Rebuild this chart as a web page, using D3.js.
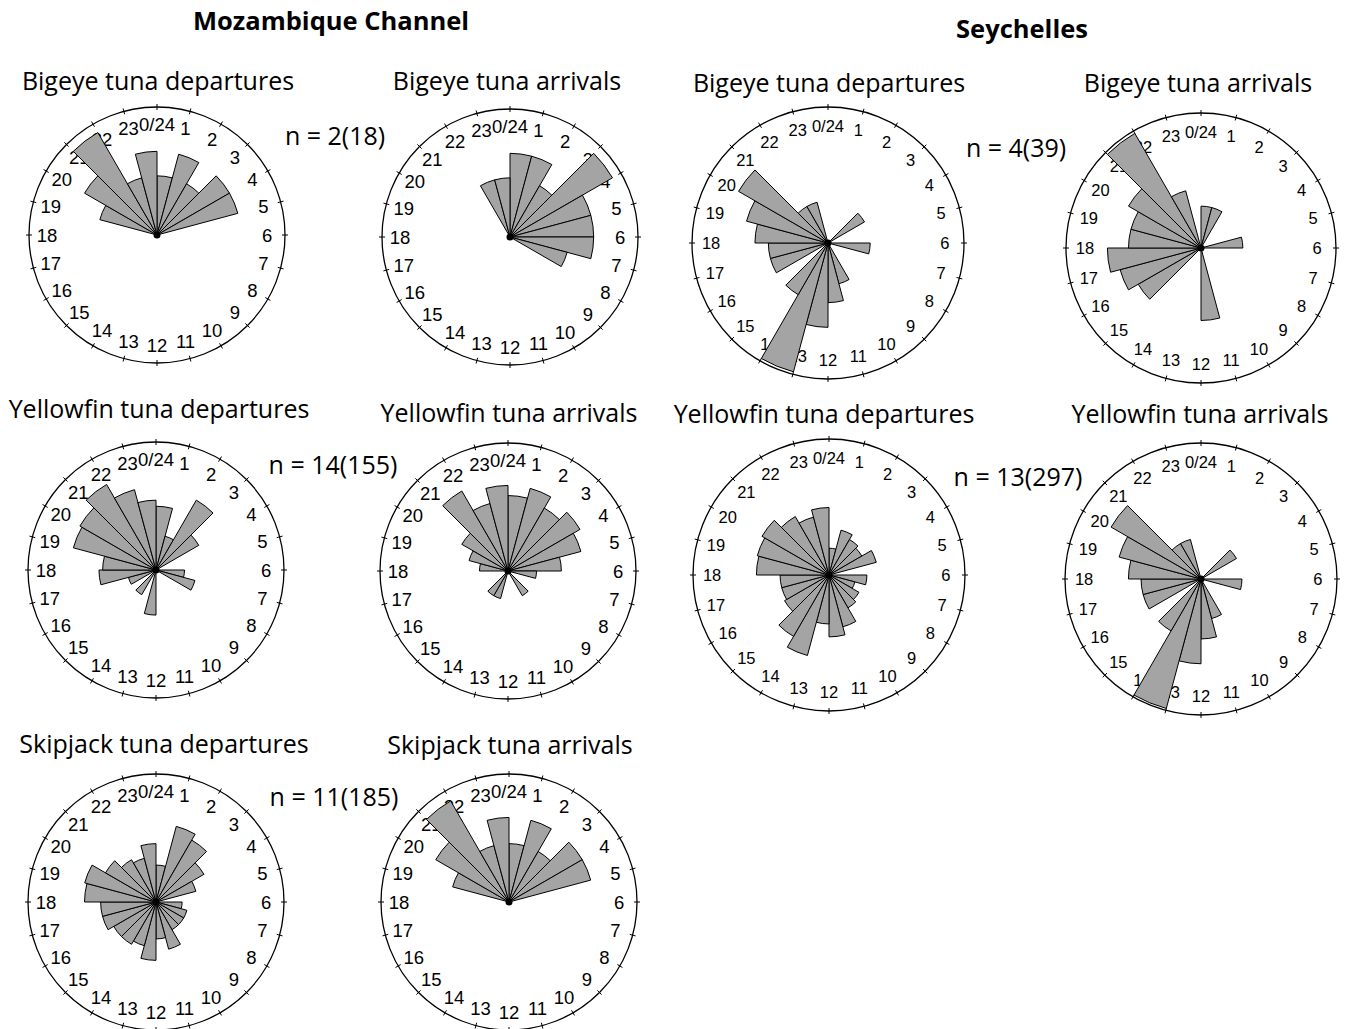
<!DOCTYPE html>
<html>
<head>
<meta charset="utf-8">
<script src="https://cdn.jsdelivr.net/npm/d3@7"></script>
<style>
  body { margin: 0; background: #fff; }
  svg { display: block; }
</style>
</head>
<body>
<svg id="chart" width="1346" height="1029"></svg>
<script>
// Hour-of-day labels around each rose (bin h covers h:00 to h+1:00)
const hourLabels = ["0/24", "1", "2", "3", "4", "5", "6", "7", "8", "9", "10", "11",
                    "12", "13", "14", "15", "16", "17", "18", "19", "20", "21", "22", "23"];

// Number of events per hourly bin, 0h ... 23h
const mozBigeyeDepartures    = [1, 2, 1, 2, 2, 0, 0, 0, 0, 0, 0, 0, 0, 0, 0, 0, 0, 0, 0, 1, 2, 4, 1, 2];
const mozBigeyeArrivals      = [2, 2, 1, 4, 2, 2, 2, 1, 0, 0, 0, 0, 0, 0, 0, 0, 0, 0, 0, 0, 0, 0, 1, 1];
const seyBigeyeDepartures    = [0, 0, 0, 1, 0, 0, 1, 0, 0, 0, 1, 2, 4, 10, 2, 0, 2, 2, 3, 4, 6, 1, 1, 0];
const seyBigeyeArrivals      = [1, 1, 0, 0, 0, 1, 0, 0, 0, 0, 0, 3, 0, 0, 0, 3, 4, 5, 3, 3, 4, 10, 2, 0];
const mozYellowfinDepartures = [10, 3, 16, 6, 0, 0, 2, 4, 0, 0, 0, 0, 5, 0, 2, 0, 2, 8, 7, 18, 19, 24, 17, 12];
const mozYellowfinArrivals   = [14, 18, 13, 17, 14, 7, 2, 0, 0, 2, 0, 0, 0, 2, 2, 0, 0, 0, 2, 4, 7, 21, 12, 18];
const seyYellowfinDepartures = [3, 9, 7, 6, 10, 0, 6, 3, 5, 6, 12, 16, 10, 29, 21, 11, 10, 10, 22, 23, 25, 19, 15, 19];
const seyYellowfinArrivals   = [0, 0, 0, 7, 0, 0, 7, 0, 0, 0, 7, 15, 30, 75, 15, 0, 15, 15, 22, 30, 45, 7, 7, 0];
const mozSkipjackDepartures  = [4, 18, 15, 9, 5, 0, 2, 3, 3, 3, 7, 4, 10, 6, 7, 7, 9, 9, 15, 16, 10, 7, 6, 10];
const mozSkipjackArrivals    = [10, 21, 10, 21, 21, 0, 0, 0, 0, 0, 0, 0, 0, 0, 0, 0, 0, 0, 0, 10, 21, 40, 10, 21];

// Sample sizes: tagged fish (events)
const sampleLabels = [
  { text: "n = 2(18)",   x: 335, y: 145 },
  { text: "n = 4(39)",   x: 1016, y: 157 },
  { text: "n = 14(155)", x: 333, y: 474 },
  { text: "n = 13(297)", x: 1018, y: 486 },
  { text: "n = 11(185)", x: 334, y: 806 }
];

const regionTitles = [
  { text: "Mozambique Channel", x: 331, y: 30 },
  { text: "Seychelles", x: 1022, y: 38 }
];

// Share of events that reaches the outer ring (area-proportional radii)
const PEAK_SHARE = 0.26;

// Layout of the ten roses
const panels = [
  { title: "Bigeye tuna departures",    counts: mozBigeyeDepartures,    cx: 157,  cy: 235, r: 128, tx: 158,  ty: 90,  fs: 18.5 },
  { title: "Bigeye tuna arrivals",      counts: mozBigeyeArrivals,      cx: 510,  cy: 237, r: 128, tx: 507,  ty: 90,  fs: 18.5 },
  { title: "Bigeye tuna departures",    counts: seyBigeyeDepartures,    cx: 828,  cy: 243, r: 136, tx: 829,  ty: 92,  fs: 16.5 },
  { title: "Bigeye tuna arrivals",      counts: seyBigeyeArrivals,      cx: 1201, cy: 248, r: 135, tx: 1198, ty: 92,  fs: 16.5 },
  { title: "Yellowfin tuna departures", counts: mozYellowfinDepartures, cx: 156,  cy: 570, r: 128, tx: 159,  ty: 418, fs: 18.5 },
  { title: "Yellowfin tuna arrivals",   counts: mozYellowfinArrivals,   cx: 508,  cy: 571, r: 128, tx: 509,  ty: 422, fs: 18.5 },
  { title: "Yellowfin tuna departures", counts: seyYellowfinDepartures, cx: 829,  cy: 575, r: 136, tx: 824,  ty: 423, fs: 16.5 },
  { title: "Yellowfin tuna arrivals",   counts: seyYellowfinArrivals,   cx: 1201, cy: 579, r: 136, tx: 1200, ty: 423, fs: 16.5 },
  { title: "Skipjack tuna departures",  counts: mozSkipjackDepartures,  cx: 156,  cy: 902, r: 128, tx: 164,  ty: 753, fs: 18.5 },
  { title: "Skipjack tuna arrivals",    counts: mozSkipjackArrivals,    cx: 509,  cy: 902, r: 128, tx: 510,  ty: 754, fs: 18.5 }
];

const svg = d3.select("#chart");
const hours = d3.range(24);
const angle = d3.scaleLinear().domain([0, 24]).range([0, 2 * Math.PI]);

svg.selectAll("text.region")
  .data(regionTitles)
  .join("text")
  .attr("class", "region")
  .attr("x", d => d.x)
  .attr("y", d => d.y)
  .attr("text-anchor", "middle")
  .style("font-family", "'Open Sans', sans-serif")
  .style("font-weight", 700)
  .style("font-size", "25.5px")
  .text(d => d.text);

svg.selectAll("text.sample")
  .data(sampleLabels)
  .join("text")
  .attr("class", "sample")
  .attr("x", d => d.x)
  .attr("y", d => d.y)
  .attr("text-anchor", "middle")
  .style("font-family", "'Open Sans', sans-serif")
  .style("font-size", "25px")
  .text(d => d.text);

panels.forEach(p => {
  const total = d3.sum(p.counts);
  const radius = d3.scaleSqrt().domain([0, PEAK_SHARE * total]).range([0, p.r]);

  svg.append("text")
    .attr("x", p.tx)
    .attr("y", p.ty)
    .attr("text-anchor", "middle")
    .style("font-family", "'Open Sans', sans-serif")
    .style("font-size", "25px")
    .text(p.title);

  const g = svg.append("g").attr("transform", `translate(${p.cx},${p.cy})`);

  // outer ring
  g.append("circle")
    .attr("r", p.r)
    .attr("fill", "none")
    .attr("stroke", "#000")
    .attr("stroke-width", 1.3);

  // hourly ticks straddling the ring
  g.selectAll("line.tick")
    .data(hours)
    .join("line")
    .attr("class", "tick")
    .attr("x1", h => (p.r - 3) * Math.sin(angle(h)))
    .attr("y1", h => -(p.r - 3) * Math.cos(angle(h)))
    .attr("x2", h => (p.r + 3) * Math.sin(angle(h)))
    .attr("y2", h => -(p.r + 3) * Math.cos(angle(h)))
    .attr("stroke", "#000")
    .attr("stroke-width", 1);

  // hour labels
  const lr = p.r * 0.86;
  g.selectAll("text.hour")
    .data(hours)
    .join("text")
    .attr("class", "hour")
    .attr("x", h => lr * Math.sin(angle(h)))
    .attr("y", h => -lr * Math.cos(angle(h)))
    .attr("text-anchor", "middle")
    .attr("dominant-baseline", "central")
    .style("font-family", "'Liberation Sans', Arial, sans-serif")
    .style("font-size", p.fs + "px")
    .text(h => hourLabels[h]);

  // wedges
  const arc = d3.arc()
    .innerRadius(0)
    .outerRadius(d => radius(d.count))
    .startAngle(d => angle(d.hour))
    .endAngle(d => angle(d.hour + 1));

  g.selectAll("path.bin")
    .data(p.counts.map((count, hour) => ({ hour, count })).filter(d => d.count > 0))
    .join("path")
    .attr("class", "bin")
    .attr("d", arc)
    .attr("fill", "#a4a4a4")
    .attr("stroke", "#000")
    .attr("stroke-width", 1);

  g.append("circle")
    .attr("r", 3.5)
    .attr("fill", "#000");
});
</script>
</body>
</html>
